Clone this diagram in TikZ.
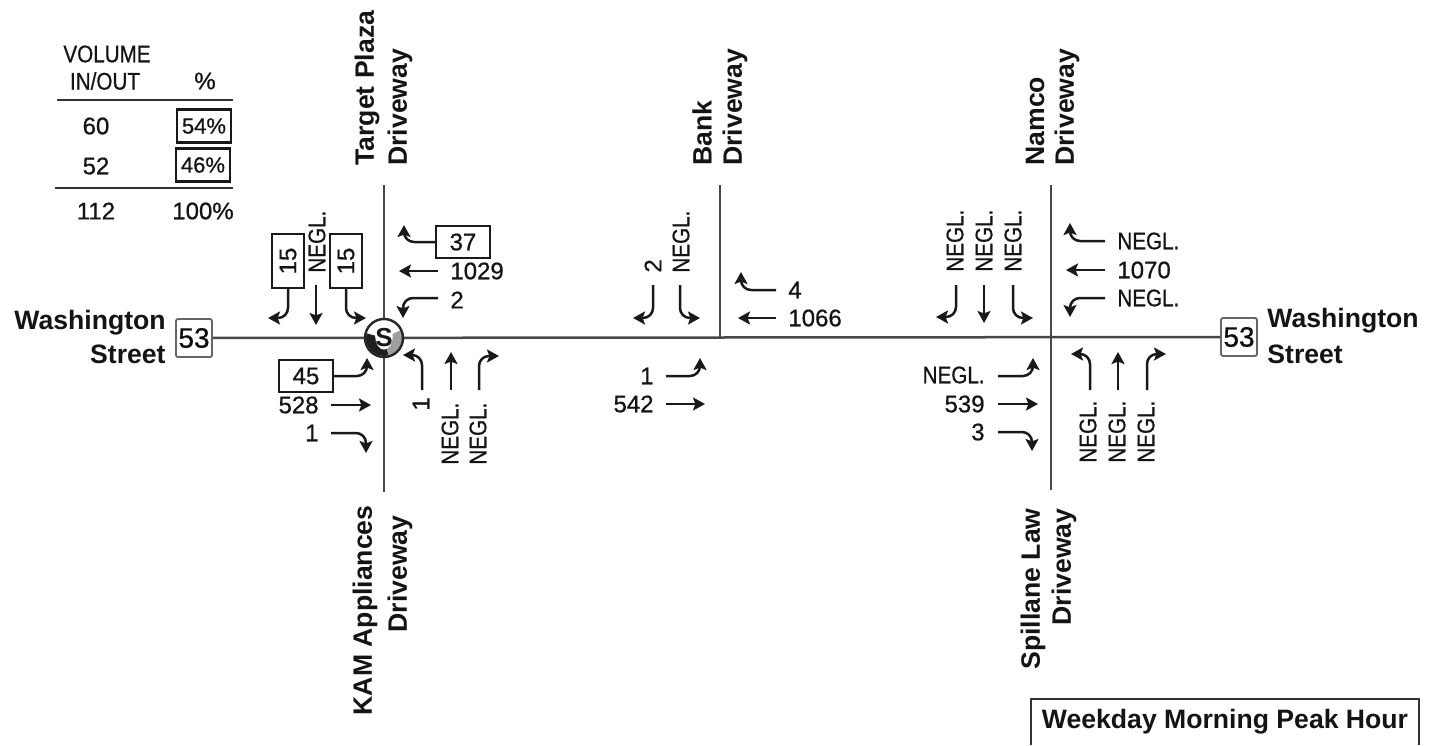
\documentclass[tikz,border=0pt]{standalone}
\usepackage{fontspec}
\setmainfont{Liberation Sans}
\newfontfamily\labf[FakeBold=0.7]{Liberation Sans}
\newfontfamily\narrowf[FakeStretch=0.86,FakeBold=0.7]{Liberation Sans}
\usetikzlibrary{arrows.meta}
\newcommand{\neglt}{{\narrowf NEGL.}}
\tikzset{
  x=0.5pt,y=-0.5pt,
  lab/.style={inner sep=0pt,text=black!92,font=\labf\fontsize{12}{14}\selectfont},
  leg/.style={lab},
  vlab/.style={lab,rotate=90},
  road/.style={inner sep=0pt,text=black!92,font=\fontsize{13.3}{15}\selectfont\bfseries},
  vroad/.style={road,rotate=90},
  boxn/.style={lab,draw=black!90,line width=1.05pt,minimum width=27pt,minimum height=16pt},
  vbox/.style={boxn,rotate=90},
  pct/.style={lab,draw=black!90,line width=1.05pt,minimum width=27pt,minimum height=16.5pt,font=\labf\fontsize{11}{13}\selectfont},
  shield/.style={draw=black!60,line width=0.9pt,rounded corners=1pt,fill=white,inner sep=0pt,minimum width=18pt,minimum height=19pt,text=black!95,font=\labf\fontsize{14}{16}\selectfont},
  arr/.style={draw=black!90,line width=1.25pt,rounded corners=5pt,-{Stealth[length=6pt,width=6.5pt,inset=1.2pt]}},
  rd/.style={draw=black!72,line width=1.25pt},
  rule/.style={draw=black!80,line width=1.15pt},
}
\begin{document}
\begin{tikzpicture}
\useasboundingbox (0,0) rectangle (1436,745);

% roads
\node[shield] (shL) at (194,338) {53};
\node[shield] (shR) at (1239,337) {53};
\coordinate (t1) at (384,185); \coordinate (b1) at (384,492);
\coordinate (t2) at (720,185); \coordinate (b2) at (720,337);
\coordinate (t3) at (1051,185); \coordinate (b3) at (1051,490);
\draw[rd] (shL) -- (shR);
\draw[rd] (t1) -- (b1);
\draw[rd] (t2) -- (b2);
\draw[rd] (t3) -- (b3);

% signal
\begin{scope}[shift={(384,338)},x=1pt,y=1pt]
  \fill[white] (0,0) circle (9.5);
  \fill[black!88] (0,0) -- (165:9) arc (165:285:9) -- cycle;
  \fill[black!38] (0,0) -- (285:9) arc (285:385:9) -- cycle;
  \fill[white] (0,0.8) ellipse (4.4 and 6.6);
  \draw[black!85,line width=1.2pt] (0,0) circle (9.5);
\end{scope}
\node[inner sep=0pt,text=black!90,font=\fontsize{13}{15}\selectfont\bfseries] (sig) at (384,338) {S};

% legend
\node[leg] (vol) at (107,54) {\narrowf VOLUME};
\node[leg] (inout) at (105,81) {\narrowf IN/OUT};
\node[leg] (pcth) at (205,81) {\%};
\coordinate (l1a) at (57,100); \coordinate (l1b) at (233,100);
\coordinate (l2a) at (55,188); \coordinate (l2b) at (233,188);
\draw[rule] (l1a) -- (l1b);
\draw[rule] (l2a) -- (l2b);
\node[leg] (v60) at (96,126) {60};
\node[leg] (v52) at (96,166) {52};
\node[leg] (v112) at (96,211) {112};
\node[pct] (p54) at (204,126) {54\%};
\node[pct] (p46) at (203,165) {46\%};
\node[leg] (p100) at (203,211) {100\%};

% street names
\node[road,anchor=east] (wl1) at (166,323) {Washington};
\node[road,anchor=east] (wl2) at (166,354) {Street};
\node[road,anchor=west] (wr1) at (1267,321) {Washington};
\node[road,anchor=west] (wr2) at (1267,354) {Street};
\node[vroad,anchor=west] (tp1) at (367,166) {Target Plaza};
\node[vroad,anchor=west] (tp2) at (400,166) {Driveway};
\node[vroad,anchor=west] (bk1) at (702,166) {Bank};
\node[vroad,anchor=west] (bk2) at (735,166) {Driveway};
\node[vroad,anchor=west] (nm1) at (1035,166) {Namco};
\node[vroad,anchor=west] (nm2) at (1067,166) {Driveway};
\node[vroad,anchor=east] (ka1) at (365,505) {KAM Appliances};
\node[vroad,anchor=east] (ka2) at (400,515) {Driveway};
\node[vroad,anchor=east] (sp1) at (1033,508) {Spillane Law};
\node[vroad,anchor=east] (sp2) at (1064,508) {Driveway};
\node[road] (peak) at (1225,722) {Weekday Morning Peak Hour};
\coordinate (pk1) at (1031,745); \coordinate (pk2) at (1031,699);
\coordinate (pk3) at (1419,699); \coordinate (pk4) at (1419,745);
\draw[rule] (pk1) -- (pk2) -- (pk3) -- (pk4);

% intersection 1: south-bound
\node[vbox] (s15a) at (288,261) {15};
\node[vbox] (s15b) at (346,261) {15};
\node[vlab,anchor=west] (s1n) at (317,273) {\neglt};
\draw[arr] (s15a.west) -- (288,318) -- (268,318);
\draw[arr] (316,285) -- (316,325);
\draw[arr] (s15b.west) -- (346,318) -- (366,318);
% west-bound
\node[boxn] (w37) at (463,242) {37};
\node[lab,anchor=west] (w1029) at (450,271) {1029};
\node[lab,anchor=west] (w2) at (450,300) {2};
\draw[arr] (w37.west) -- (404,242) -- (404,225);
\draw[arr] (438,271) -- (399,271);
\draw[arr] (438,298) -- (403,298) -- (403,318);
% east-bound
\node[boxn] (e45) at (306,376) {45};
\node[lab,anchor=east] (e528) at (319,405) {528};
\node[lab,anchor=east] (e1) at (319,433) {1};
\draw[arr] (e45.east) -- (367,376) -- (367,358);
\draw[arr] (331,405) -- (371,405);
\draw[arr] (331,433) -- (366,433) -- (366,453);
% north-bound
\node[vlab,anchor=west] (n1) at (421,411) {1};
\node[vlab,anchor=west] (n1a) at (450,465) {\neglt};
\node[vlab,anchor=west] (n1b) at (478,465) {\neglt};
\draw[arr] (422,390) -- (422,355) -- (403,355);
\draw[arr] (451,390) -- (451,352);
\draw[arr] (479,390) -- (479,356) -- (499,356);

% intersection 2
\node[vlab,anchor=west] (s2a) at (653,273) {2};
\node[vlab,anchor=west] (s2b) at (681,273) {\neglt};
\draw[arr] (653,285) -- (653,318) -- (633,318);
\draw[arr] (680,285) -- (680,318) -- (700,318);
\node[lab,anchor=west] (w4) at (788,290) {4};
\node[lab,anchor=west] (w1066) at (788,318) {1066};
\draw[arr] (776,290) -- (741,290) -- (741,272);
\draw[arr] (776,318) -- (738,318);
\node[lab,anchor=east] (e1b) at (654,376) {1};
\node[lab,anchor=east] (e542) at (654,404) {542};
\draw[arr] (666,376) -- (700,376) -- (700,358);
\draw[arr] (666,404) -- (705,404);

% intersection 3
\node[vlab,anchor=west] (s3a) at (955,272) {\neglt};
\node[vlab,anchor=west] (s3b) at (984,272) {\neglt};
\node[vlab,anchor=west] (s3c) at (1013,272) {\neglt};
\draw[arr] (956,285) -- (956,317) -- (936,317);
\draw[arr] (984,285) -- (984,323);
\draw[arr] (1013,285) -- (1013,318) -- (1033,318);
\node[lab,anchor=west] (w3a) at (1117,241) {\neglt};
\node[lab,anchor=west] (w3b) at (1117,270) {1070};
\node[lab,anchor=west] (w3c) at (1117,298) {\neglt};
\draw[arr] (1105,241) -- (1070,241) -- (1070,223);
\draw[arr] (1105,270) -- (1066,270);
\draw[arr] (1105,298) -- (1070,298) -- (1070,317);
\node[lab,anchor=east] (e3a) at (985,375) {\neglt};
\node[lab,anchor=east] (e3b) at (985,404) {539};
\node[lab,anchor=east] (e3c) at (985,432) {3};
\draw[arr] (998,376) -- (1033,376) -- (1033,358);
\draw[arr] (998,404) -- (1038,404);
\draw[arr] (998,432) -- (1032,432) -- (1032,451);
\draw[arr] (1090,390) -- (1090,354) -- (1071,354);
\draw[arr] (1118,390) -- (1118,352);
\draw[arr] (1147,390) -- (1147,354) -- (1166,354);
\node[vlab,anchor=west] (n3a) at (1088,463) {\neglt};
\node[vlab,anchor=west] (n3b) at (1117,463) {\neglt};
\node[vlab,anchor=west] (n3c) at (1146,463) {\neglt};
\end{tikzpicture}
\end{document}
